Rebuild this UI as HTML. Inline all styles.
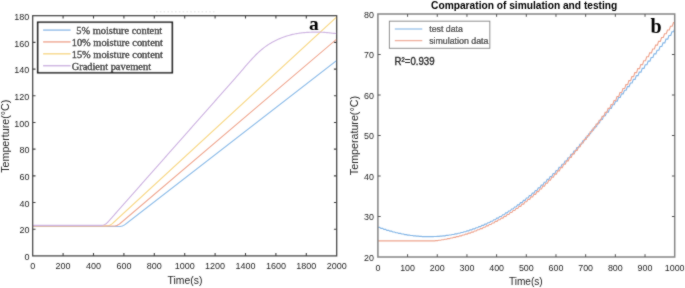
<!DOCTYPE html>
<html><head><meta charset="utf-8"><style>
html,body{margin:0;padding:0;background:#fff;width:685px;height:288px;overflow:hidden}
svg{display:block}
.s{font-family:"Liberation Sans",sans-serif}
.r{font-family:"Liberation Serif",serif}
</style></head><body>
<svg width="685" height="288" viewBox="0 0 685 288"><defs><clipPath id="cl"><rect x="32.7" y="15.7" width="304" height="240.2"/></clipPath><filter id="bl" x="-2%" y="-2%" width="104%" height="104%"><feConvolveMatrix order="3" kernelMatrix="1 2 1 2 20 2 1 2 1" divisor="32" edgeMode="duplicate"/></filter><clipPath id="cr"><rect x="377.9" y="14" width="296.8" height="243"/></clipPath></defs><rect width="685" height="288" fill="#fff"/><g filter="url(#bl)"><g clip-path="url(#cl)" fill="none" stroke-width="1.15" stroke-linejoin="round"><path d="M32.7,226.5 L119.4,226.5 L120.4,226.44 L121.4,226.24 L122.4,225.92 L123.4,225.47 L124.4,224.89 L125.4,224.18 L336.7,60.42" stroke="#94c0ea"/><path d="M32.7,225.8 L107,225.8 L108,225.72 L109,225.49 L110,225.11 L111,224.57 L112,223.88 L113,223.04 L336.7,17.01" stroke="#f8da8c"/><path d="M32.7,226 L114.1,226 L115.1,225.93 L116.1,225.72 L117.1,225.36 L118.1,224.87 L119.1,224.23 L120.1,223.45 L336.7,39.12" stroke="#f0aa94"/><path d="M32.7,225.4 L33.7,225.4 L34.7,225.4 L35.7,225.4 L36.7,225.4 L37.7,225.4 L38.7,225.4 L39.7,225.4 L40.7,225.4 L41.7,225.4 L42.7,225.4 L43.7,225.4 L44.7,225.4 L45.7,225.4 L46.7,225.4 L47.7,225.4 L48.7,225.4 L49.7,225.4 L50.7,225.4 L51.7,225.4 L52.7,225.4 L53.7,225.4 L54.7,225.4 L55.7,225.4 L56.7,225.4 L57.7,225.4 L58.7,225.4 L59.7,225.4 L60.7,225.4 L61.7,225.4 L62.7,225.4 L63.7,225.4 L64.7,225.4 L65.7,225.4 L66.7,225.4 L67.7,225.4 L68.7,225.4 L69.7,225.4 L70.7,225.4 L71.7,225.4 L72.7,225.4 L73.7,225.4 L74.7,225.4 L75.7,225.4 L76.7,225.4 L77.7,225.4 L78.7,225.4 L79.7,225.4 L80.7,225.4 L81.7,225.4 L82.7,225.4 L83.7,225.4 L84.7,225.4 L85.7,225.4 L86.7,225.4 L87.7,225.4 L88.7,225.4 L89.7,225.4 L90.7,225.4 L91.7,225.4 L92.7,225.4 L93.7,225.4 L94.7,225.4 L95.7,225.4 L96.7,225.4 L97.7,225.4 L98.7,225.4 L99.7,225.4 L100.7,225.4 L101.7,225.4 L102.7,225.28 L103.7,225 L104.7,224.55 L105.7,223.94 L106.7,223.17 L107.7,222.24 L108.7,221.16 L109.7,220.03 L110.7,218.9 L111.7,217.77 L112.7,216.64 L113.7,215.51 L114.7,214.38 L115.7,213.25 L116.7,212.12 L117.7,210.99 L118.7,209.86 L119.7,208.73 L120.7,207.6 L121.7,206.47 L122.7,205.34 L123.7,204.21 L124.7,203.08 L125.7,201.95 L126.7,200.82 L127.7,199.69 L128.7,198.56 L129.7,197.43 L130.7,196.3 L131.7,195.17 L132.7,194.04 L133.7,192.91 L134.7,191.78 L135.7,190.65 L136.7,189.52 L137.7,188.39 L138.7,187.26 L139.7,186.13 L140.7,185 L141.7,183.87 L142.7,182.74 L143.7,181.61 L144.7,180.48 L145.7,179.35 L146.7,178.22 L147.7,177.09 L148.7,175.96 L149.7,174.83 L150.7,173.7 L151.7,172.57 L152.7,171.44 L153.7,170.31 L154.7,169.18 L155.7,168.05 L156.7,166.92 L157.7,165.79 L158.7,164.66 L159.7,163.53 L160.7,162.4 L161.7,161.27 L162.7,160.14 L163.7,159.01 L164.7,157.88 L165.7,156.75 L166.7,155.62 L167.7,154.49 L168.7,153.36 L169.7,152.23 L170.7,151.1 L171.7,149.97 L172.7,148.84 L173.7,147.71 L174.7,146.58 L175.7,145.45 L176.7,144.32 L177.7,143.19 L178.7,142.06 L179.7,140.93 L180.7,139.8 L181.7,138.67 L182.7,137.54 L183.7,136.41 L184.7,135.28 L185.7,134.15 L186.7,133.02 L187.7,131.89 L188.7,130.76 L189.7,129.63 L190.7,128.5 L191.7,127.37 L192.7,126.24 L193.7,125.11 L194.7,123.98 L195.7,122.85 L196.7,121.72 L197.7,120.59 L198.7,119.46 L199.7,118.33 L200.7,117.2 L201.7,116.07 L202.7,114.94 L203.7,113.81 L204.7,112.68 L205.7,111.55 L206.7,110.42 L207.7,109.29 L208.7,108.16 L209.7,107.03 L210.7,105.9 L211.7,104.77 L212.7,103.64 L213.7,102.51 L214.7,101.38 L215.7,100.25 L216.7,99.12 L217.7,97.99 L218.7,96.86 L219.7,95.73 L220.7,94.6 L221.7,93.47 L222.7,92.34 L223.7,91.21 L224.7,90.08 L225.7,88.95 L226.7,87.82 L227.7,86.69 L228.7,85.56 L229.7,84.43 L230.7,83.3 L231.7,82.17 L232.7,81.04 L233.7,79.91 L234.7,78.77 L235.7,77.63 L236.7,76.48 L237.7,75.33 L238.7,74.17 L239.7,73.01 L240.7,71.85 L241.7,70.68 L242.7,69.51 L243.7,68.33 L244.7,67.15 L245.7,65.99 L246.7,64.83 L247.7,63.69 L248.7,62.56 L249.7,61.44 L250.7,60.34 L251.7,59.24 L252.7,58.16 L253.7,57.09 L254.7,56.04 L255.7,55.02 L256.7,54.02 L257.7,53.06 L258.7,52.12 L259.7,51.22 L260.7,50.35 L261.7,49.5 L262.7,48.69 L263.7,47.9 L264.7,47.14 L265.7,46.41 L266.7,45.71 L267.7,45.04 L268.7,44.39 L269.7,43.77 L270.7,43.16 L271.7,42.58 L272.7,42.02 L273.7,41.48 L274.7,40.97 L275.7,40.47 L276.7,39.99 L277.7,39.52 L278.7,39.08 L279.7,38.64 L280.7,38.23 L281.7,37.83 L282.7,37.45 L283.7,37.08 L284.7,36.73 L285.7,36.39 L286.7,36.06 L287.7,35.76 L288.7,35.46 L289.7,35.18 L290.7,34.91 L291.7,34.66 L292.7,34.43 L293.7,34.2 L294.7,33.99 L295.7,33.8 L296.7,33.61 L297.7,33.45 L298.7,33.29 L299.7,33.15 L300.7,33.02 L301.7,32.9 L302.7,32.79 L303.7,32.69 L304.7,32.59 L305.7,32.51 L306.7,32.43 L307.7,32.37 L308.7,32.31 L309.7,32.26 L310.7,32.21 L311.7,32.18 L312.7,32.15 L313.7,32.13 L314.7,32.11 L315.7,32.09 L316.7,32.08 L317.7,32.08 L318.7,32.08 L319.7,32.11 L320.7,32.14 L321.7,32.2 L322.7,32.27 L323.7,32.34 L324.7,32.42 L325.7,32.51 L326.7,32.59 L327.7,32.68 L328.7,32.78 L329.7,32.88 L330.7,32.98 L331.7,33.09 L332.7,33.2 L333.7,33.31 L334.7,33.43 L335.7,33.55 L336.7,33.68" stroke="#cfb5e2"/></g><rect x="32.7" y="15.7" width="304" height="240.2" fill="none" stroke="#444" stroke-width="1.25"/><path d="M63.1,255.9v-2.8M63.1,15.7v2.8M93.5,255.9v-2.8M93.5,15.7v2.8M123.9,255.9v-2.8M123.9,15.7v2.8M154.3,255.9v-2.8M154.3,15.7v2.8M184.7,255.9v-2.8M184.7,15.7v2.8M215.1,255.9v-2.8M215.1,15.7v2.8M245.5,255.9v-2.8M245.5,15.7v2.8M275.9,255.9v-2.8M275.9,15.7v2.8M306.3,255.9v-2.8M306.3,15.7v2.8M32.7,229.21h2.8M336.7,229.21h-2.8M32.7,202.52h2.8M336.7,202.52h-2.8M32.7,175.83h2.8M336.7,175.83h-2.8M32.7,149.14h2.8M336.7,149.14h-2.8M32.7,122.46h2.8M336.7,122.46h-2.8M32.7,95.77h2.8M336.7,95.77h-2.8M32.7,69.08h2.8M336.7,69.08h-2.8M32.7,42.39h2.8M336.7,42.39h-2.8" stroke="#444" stroke-width="1.1" fill="none"/><g class="s" font-size="9.0" fill="#262626"><text x="32.7" y="269.4" text-anchor="middle">0</text><text x="63.1" y="269.4" text-anchor="middle">200</text><text x="93.5" y="269.4" text-anchor="middle">400</text><text x="123.9" y="269.4" text-anchor="middle">600</text><text x="154.3" y="269.4" text-anchor="middle">800</text><text x="184.7" y="269.4" text-anchor="middle">1000</text><text x="215.1" y="269.4" text-anchor="middle">1200</text><text x="245.5" y="269.4" text-anchor="middle">1400</text><text x="275.9" y="269.4" text-anchor="middle">1600</text><text x="306.3" y="269.4" text-anchor="middle">1800</text><text x="336.7" y="269.4" text-anchor="middle">2000</text><text x="29.4" y="260.1" text-anchor="end">0</text><text x="29.4" y="233.41" text-anchor="end">20</text><text x="29.4" y="206.72" text-anchor="end">40</text><text x="29.4" y="180.03" text-anchor="end">60</text><text x="29.4" y="153.34" text-anchor="end">80</text><text x="29.4" y="126.66" text-anchor="end">100</text><text x="29.4" y="99.97" text-anchor="end">120</text><text x="29.4" y="73.28" text-anchor="end">140</text><text x="29.4" y="46.59" text-anchor="end">160</text><text x="29.4" y="19.9" text-anchor="end">180</text></g><text x="185" y="283.9" class="s" font-size="10.4" fill="#262626" text-anchor="middle">Time(s)</text><text transform="translate(9.3,136.2) rotate(-90)" class="s" font-size="10.7" fill="#262626" text-anchor="middle">Temperture(°C)</text><rect x="37.7" y="22.3" width="134.6" height="50.4" fill="#fff" stroke="#1a1a1a" stroke-width="1.6"/><path d="M43.1,30.1H70.6" stroke="#94c0ea" stroke-width="1.5"/><text x="76.25" y="34.2" class="r" font-size="10.4" fill="#1a1a1a" stroke="#1a1a1a" stroke-width="0.3">5% moisture content</text><path d="M43.1,41.9H70.6" stroke="#f0aa94" stroke-width="1.5"/><text x="71.7" y="46" class="r" font-size="10.4" fill="#1a1a1a" stroke="#1a1a1a" stroke-width="0.3">10% moisture content</text><path d="M43.1,53.8H70.6" stroke="#f8da8c" stroke-width="1.5"/><text x="71.7" y="57.9" class="r" font-size="10.4" fill="#1a1a1a" stroke="#1a1a1a" stroke-width="0.3">15% moisture content</text><path d="M43.1,65.7H70.6" stroke="#cfb5e2" stroke-width="1.5"/><text x="71.7" y="69.8" class="r" font-size="10.4" fill="#1a1a1a" stroke="#1a1a1a" stroke-width="0.3">Gradient pavement</text><path d="M156,11.8H214.5" stroke="#e2e2e2" stroke-width="1" stroke-dasharray="1.6 2.2"/><text x="309" y="29.7" class="r" font-weight="bold" font-size="19.5" fill="#000">a</text><g clip-path="url(#cr)" fill="none" stroke-width="1.15" stroke-linejoin="miter"><path d="M377.9,227.34 L379.68,227.34 L380.87,228.4 L382.65,228.4 L383.84,229.39 L385.62,229.39 L386.81,230.33 L388.59,230.33 L389.78,231.19 L391.56,231.19 L392.75,232 L394.53,232 L395.72,232.75 L397.5,232.75 L398.69,233.43 L400.47,233.43 L401.66,234.04 L403.44,234.04 L404.63,234.6 L406.41,234.6 L407.6,235.08 L409.38,235.08 L410.57,235.51 L412.35,235.51 L413.54,235.87 L415.32,235.87 L416.51,236.16 L418.29,236.16 L419.48,236.39 L421.26,236.39 L422.45,236.55 L424.23,236.55 L425.42,236.65 L427.2,236.65 L428.39,236.68 L430.17,236.68 L431.36,236.64 L433.14,236.64 L434.33,236.53 L436.11,236.53 L437.3,236.36 L439.08,236.36 L440.27,236.12 L442.05,236.12 L443.24,235.81 L445.02,235.81 L446.21,235.43 L447.99,235.43 L449.18,234.98 L450.96,234.98 L452.15,234.46 L453.93,234.46 L455.12,233.88 L456.9,233.88 L458.09,233.22 L459.87,233.22 L461.06,232.49 L462.84,232.49 L464.03,231.7 L465.81,231.7 L467,230.83 L468.78,230.83 L469.97,229.89 L471.75,229.89 L472.94,228.88 L474.72,228.88 L475.91,227.79 L477.69,227.79 L478.88,226.63 L480.66,226.63 L481.85,225.41 L483.63,225.41 L484.82,224.1 L486.6,224.1 L487.79,222.73 L489.57,222.73 L490.76,221.28 L492.54,221.28 L493.73,219.75 L495.51,219.75 L496.7,218.15 L498.48,218.15 L499.67,216.48 L501.45,216.48 L502.64,214.73 L504.42,214.73 L505.61,212.91 L507.39,212.91 L508.58,211.01 L510.36,211.01 L511.55,209.03 L513.33,209.03 L514.52,206.98 L516.3,206.98 L517.49,204.85 L519.27,204.85 L520.46,202.65 L522.24,202.65 L523.43,200.36 L525.21,200.36 L526.4,198 L528.18,198 L529.37,195.56 L531.15,195.56 L532.34,193.05 L534.12,193.05 L535.31,190.46 L537.09,190.46 L538.28,187.8 L540.06,187.8 L541.25,185.07 L543.03,185.07 L544.22,182.27 L546,182.27 L547.19,179.41 L548.97,179.41 L550.16,176.48 L551.94,176.48 L553.13,173.5 L554.91,173.5 L556.1,170.45 L557.88,170.45 L559.07,167.35 L560.85,167.35 L562.04,164.2 L563.82,164.2 L565.01,160.99 L566.79,160.99 L567.98,157.73 L569.76,157.73 L570.95,154.42 L572.73,154.42 L573.92,151.07 L575.7,151.07 L576.89,147.68 L578.67,147.68 L579.86,144.24 L581.64,144.24 L582.83,140.77 L584.61,140.77 L585.8,137.26 L587.58,137.26 L588.77,133.72 L590.55,133.72 L591.74,130.15 L593.52,130.15 L594.71,126.57 L596.49,126.57 L597.68,122.96 L599.46,122.96 L600.65,119.34 L602.43,119.34 L603.62,115.71 L605.4,115.71 L606.59,112.07 L608.37,112.07 L609.56,108.43 L611.34,108.43 L612.53,104.79 L614.31,104.79 L615.5,101.15 L617.28,101.15 L618.47,97.51 L620.25,97.51 L621.44,93.87 L623.22,93.87 L624.41,90.23 L626.19,90.23 L627.38,86.59 L629.16,86.59 L630.35,82.95 L632.13,82.95 L633.32,79.32 L635.1,79.32 L636.29,75.69 L638.07,75.69 L639.26,72.06 L641.04,72.06 L642.23,68.42 L644.01,68.42 L645.2,64.79 L646.98,64.79 L648.17,61.15 L649.95,61.15 L651.14,57.5 L652.92,57.5 L654.11,53.85 L655.89,53.85 L657.08,50.2 L658.86,50.2 L660.05,46.53 L661.83,46.53 L663.02,42.85 L664.8,42.85 L665.99,39.17 L667.77,39.17 L668.96,35.47 L670.74,35.47 L671.93,31.75 L673.71,31.75 L674.9,28.02 L676.68,28.02" stroke="#84b6e6"/><path d="M376.43,240.8 L378.21,240.8 L379.4,240.8 L381.18,240.8 L382.37,240.8 L384.15,240.8 L385.34,240.8 L387.12,240.8 L388.31,240.8 L390.09,240.8 L391.28,240.8 L393.06,240.8 L394.25,240.8 L396.03,240.8 L397.22,240.8 L399,240.8 L400.19,240.8 L401.97,240.8 L403.16,240.8 L404.94,240.8 L406.13,240.8 L407.91,240.8 L409.1,240.8 L410.88,240.8 L412.07,240.8 L413.85,240.8 L415.04,240.8 L416.82,240.8 L418.01,240.8 L419.79,240.8 L420.98,240.8 L422.76,240.8 L423.95,240.8 L425.73,240.8 L426.92,240.8 L428.7,240.8 L429.89,240.8 L431.67,240.8 L432.86,240.8 L434.64,240.8 L435.83,240.62 L437.61,240.62 L438.8,240.21 L440.58,240.21 L441.77,239.75 L443.55,239.75 L444.74,239.23 L446.52,239.23 L447.71,238.66 L449.49,238.66 L450.68,238.04 L452.46,238.04 L453.65,237.36 L455.43,237.36 L456.62,236.62 L458.4,236.62 L459.59,235.83 L461.37,235.83 L462.56,234.97 L464.34,234.97 L465.53,234.06 L467.31,234.06 L468.5,233.09 L470.28,233.09 L471.47,232.05 L473.25,232.05 L474.44,230.95 L476.22,230.95 L477.41,229.79 L479.19,229.79 L480.38,228.56 L482.16,228.56 L483.35,227.27 L485.13,227.27 L486.32,225.91 L488.1,225.91 L489.29,224.49 L491.07,224.49 L492.26,222.99 L494.04,222.99 L495.23,221.43 L497.01,221.43 L498.2,219.79 L499.98,219.79 L501.17,218.09 L502.95,218.09 L504.14,216.31 L505.92,216.31 L507.11,214.46 L508.89,214.46 L510.08,212.53 L511.86,212.53 L513.05,210.53 L514.83,210.53 L516.02,208.45 L517.8,208.45 L518.99,206.3 L520.77,206.3 L521.96,204.06 L523.74,204.06 L524.93,201.75 L526.71,201.75 L527.9,199.36 L529.68,199.36 L530.87,196.88 L532.65,196.88 L533.84,194.33 L535.62,194.33 L536.81,191.69 L538.59,191.69 L539.78,188.96 L541.56,188.96 L542.75,186.15 L544.53,186.15 L545.72,183.26 L547.5,183.26 L548.69,180.28 L550.47,180.28 L551.66,177.23 L553.44,177.23 L554.63,174.1 L556.41,174.1 L557.6,170.89 L559.38,170.89 L560.57,167.62 L562.35,167.62 L563.54,164.28 L565.32,164.28 L566.51,160.88 L568.29,160.88 L569.48,157.42 L571.26,157.42 L572.45,153.9 L574.23,153.9 L575.42,150.33 L577.2,150.33 L578.39,146.71 L580.17,146.71 L581.36,143.04 L583.14,143.04 L584.33,139.33 L586.11,139.33 L587.3,135.58 L589.08,135.58 L590.27,131.79 L592.05,131.79 L593.24,127.97 L595.02,127.97 L596.21,124.11 L597.99,124.11 L599.18,120.23 L600.96,120.23 L602.15,116.32 L603.93,116.32 L605.12,112.39 L606.9,112.39 L608.09,108.44 L609.87,108.44 L611.06,104.48 L612.84,104.48 L614.03,100.51 L615.81,100.51 L617,96.52 L618.78,96.52 L619.97,92.54 L621.75,92.54 L622.94,88.54 L624.72,88.54 L625.91,84.55 L627.69,84.55 L628.88,80.56 L630.66,80.56 L631.85,76.57 L633.63,76.57 L634.82,72.59 L636.6,72.59 L637.79,68.62 L639.57,68.62 L640.76,64.67 L642.54,64.67 L643.73,60.72 L645.51,60.72 L646.7,56.79 L648.48,56.79 L649.67,52.89 L651.45,52.89 L652.64,49 L654.42,49 L655.61,45.14 L657.39,45.14 L658.58,41.3 L660.36,41.3 L661.55,37.49 L663.33,37.49 L664.52,33.72 L666.3,33.72 L667.49,29.97 L669.27,29.97 L670.46,26.27 L672.24,26.27 L673.43,22.6 L675.21,22.6 L676.4,18.97 L678.18,18.97" stroke="#eea48e"/></g><rect x="377.9" y="14" width="296.8" height="243" fill="none" stroke="#858585" stroke-width="1.5"/><path d="M407.58,257v-2.8M407.58,14v2.8M437.26,257v-2.8M437.26,14v2.8M466.94,257v-2.8M466.94,14v2.8M496.62,257v-2.8M496.62,14v2.8M526.3,257v-2.8M526.3,14v2.8M555.98,257v-2.8M555.98,14v2.8M585.66,257v-2.8M585.66,14v2.8M615.34,257v-2.8M615.34,14v2.8M645.02,257v-2.8M645.02,14v2.8M377.9,216.5h2.8M674.7,216.5h-2.8M377.9,176h2.8M674.7,176h-2.8M377.9,135.5h2.8M674.7,135.5h-2.8M377.9,95h2.8M674.7,95h-2.8M377.9,54.5h2.8M674.7,54.5h-2.8" stroke="#555" stroke-width="1" fill="none"/><g class="s" font-size="8.9" fill="#262626"><text x="377.9" y="270.8" text-anchor="middle">0</text><text x="407.58" y="270.8" text-anchor="middle">100</text><text x="437.26" y="270.8" text-anchor="middle">200</text><text x="466.94" y="270.8" text-anchor="middle">300</text><text x="496.62" y="270.8" text-anchor="middle">400</text><text x="526.3" y="270.8" text-anchor="middle">500</text><text x="555.98" y="270.8" text-anchor="middle">600</text><text x="585.66" y="270.8" text-anchor="middle">700</text><text x="615.34" y="270.8" text-anchor="middle">800</text><text x="645.02" y="270.8" text-anchor="middle">900</text><text x="674.7" y="270.8" text-anchor="middle">1000</text><text x="373.9" y="260.8" text-anchor="end">20</text><text x="373.9" y="220.3" text-anchor="end">30</text><text x="373.9" y="179.8" text-anchor="end">40</text><text x="373.9" y="139.3" text-anchor="end">50</text><text x="373.9" y="98.8" text-anchor="end">60</text><text x="373.9" y="58.3" text-anchor="end">70</text><text x="373.9" y="17.8" text-anchor="end">80</text></g><text x="525.8" y="284.5" class="s" font-size="10.1" fill="#262626" text-anchor="middle">Time(s)</text><text transform="translate(358.3,135.6) rotate(-90)" class="s" font-size="10.7" fill="#262626" text-anchor="middle">Temperature(°C)</text><text x="524.2" y="8.6" class="s" font-weight="bold" font-size="10.2" fill="#000" text-anchor="middle">Comparation of simulation and testing</text><rect x="389.4" y="21.2" width="100.4" height="27.1" fill="#fff" stroke="#8a8a8a" stroke-width="1"/><path d="M394.8,29H422.3" stroke="#94c0ea" stroke-width="1.3"/><path d="M394.8,40.6H422.3" stroke="#f0aa94" stroke-width="1.3"/><text x="429.2" y="32.2" class="s" font-size="8.8" fill="#2a2a2a" stroke="#2a2a2a" stroke-width="0.2">test data</text><text x="429.2" y="43.6" class="s" font-size="8.8" fill="#2a2a2a" stroke="#2a2a2a" stroke-width="0.2">simulation data</text><text x="394.6" y="65" textLength="40" lengthAdjust="spacingAndGlyphs" class="s" font-size="10.6" fill="#2a2a2a" stroke="#2a2a2a" stroke-width="0.35">R²=0.939</text><text x="650.5" y="32.7" class="r" font-weight="bold" font-size="20" fill="#000">b</text></g></svg>
</body></html>
